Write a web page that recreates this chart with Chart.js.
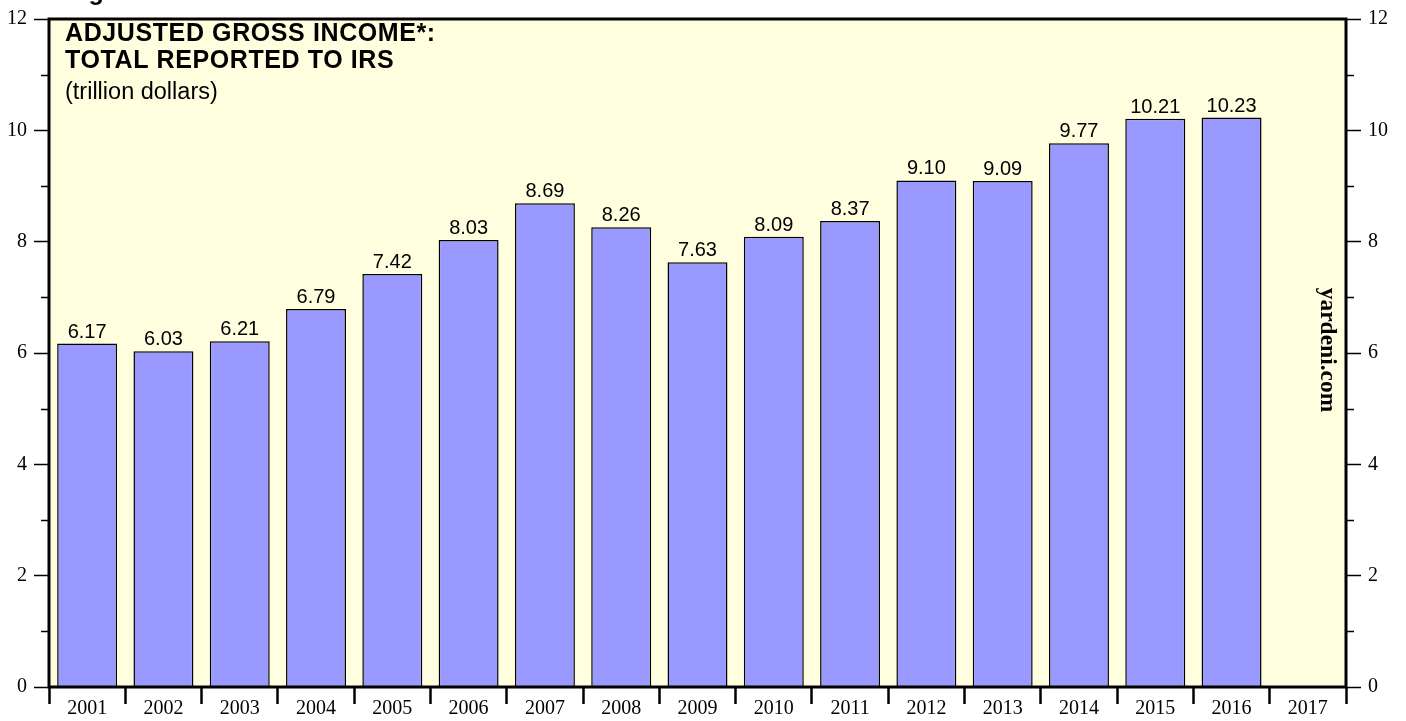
<!DOCTYPE html>
<html><head><meta charset="utf-8">
<script src="https://cdn.jsdelivr.net/npm/chart.js@4.4.1/dist/chart.umd.min.js"></script>
<style>html,body{margin:0;padding:0;background:#fff;overflow:hidden}#wrap{width:1406px;height:721px;position:relative}canvas{display:block}</style>
</head><body><div id="wrap"><canvas id="c" width="1406" height="721"></canvas></div>
<script>
const years = ['2001','2002','2003','2004','2005','2006','2007','2008','2009','2010','2011','2012','2013','2014','2015','2016','2017'];
const agiValues = [6.17,6.03,6.21,6.79,7.42,8.03,8.69,8.26,7.63,8.09,8.37,9.10,9.09,9.77,10.21,10.23,null];
const yMin = 0, yMax = 12, yMajorStep = 2, yMinorStep = 1;
const titleLines = ['ADJUSTED GROSS INCOME*:','TOTAL REPORTED TO IRS'];
const subtitle = '(trillion dollars)';
const figLabel = 'Figure 1.';
const sourceText = 'yardeni.com';

const SANS = '"Liberation Sans", Arial, sans-serif';
const SERIF = '"Liberation Serif", "Times New Roman", serif';

const decor = {
  id: 'decor',
  beforeDraw(chart) {
    const {ctx, chartArea: a} = chart;
    ctx.save();
    ctx.fillStyle = '#ffffff';
    ctx.fillRect(0, 0, chart.width, chart.height);
    ctx.fillStyle = '#ffffe0';
    ctx.fillRect(a.left, a.top, a.right - a.left, a.bottom - a.top);
    ctx.restore();
  },
  afterDatasetsDraw(chart) {
    const {ctx, chartArea: a} = chart;
    ctx.save();
    // value labels
    const meta = chart.getDatasetMeta(0);
    ctx.fillStyle = '#000';
    ctx.font = '20px ' + SANS;
    ctx.textAlign = 'center';
    ctx.textBaseline = 'alphabetic';
    meta.data.forEach((bar, i) => {
      const v = agiValues[i];
      if (v == null) return;
      ctx.fillText(v.toFixed(2), bar.x, bar.y - 6);
    });
    // minor ticks on both y axes
    const yl = chart.scales.y;
    ctx.strokeStyle = '#000';
    ctx.lineWidth = 1.5;
    for (let v = yMin; v <= yMax; v += yMinorStep) {
      if (v % yMajorStep === 0) continue;
      const py = Math.round(yl.getPixelForValue(v)) + 0.5;
      ctx.beginPath();
      ctx.moveTo(a.left - 8, py); ctx.lineTo(a.left, py);
      ctx.moveTo(a.right, py); ctx.lineTo(a.right + 8, py);
      ctx.stroke();
    }
    // plot frame
    ctx.lineWidth = 3;
    ctx.strokeRect(a.left, a.top, a.right - a.left, a.bottom - a.top);
    // titles
    ctx.textAlign = 'left';
    ctx.font = 'bold 25px ' + SANS;
    if ('letterSpacing' in ctx) ctx.letterSpacing = '0.6px';
    ctx.fillText(figLabel, 65, 0);
    ctx.fillText(titleLines[0], 65, 41);
    ctx.fillText(titleLines[1], 65, 68);
    if ('letterSpacing' in ctx) ctx.letterSpacing = '0px';
    ctx.font = '23.5px ' + SANS;
    ctx.fillText(subtitle, 65, 99);
    // source
    ctx.translate(1327, 350);
    ctx.rotate(Math.PI / 2);
    ctx.textAlign = 'center';
    ctx.textBaseline = 'middle';
    ctx.font = 'bold 23.5px ' + SERIF;
    ctx.fillText(sourceText, 0, 0);
    ctx.restore();
  }
};

const yAxisCommon = (pos, width) => ({
  type: 'linear',
  position: pos,
  min: yMin, max: yMax,
  border: {display: false},
  grid: {display: true, drawOnChartArea: false, drawTicks: true, tickLength: 15, tickWidth: 1.5, tickColor: '#000'},
  ticks: {stepSize: yMajorStep, padding: 7, color: '#000', font: {family: SERIF, size: 20}},
  afterFit(s) { s.width = width; }
});

new Chart(document.getElementById('c'), {
  type: 'bar',
  data: {
    labels: years,
    datasets: [{
      data: agiValues,
      backgroundColor: '#9999ff',
      borderColor: '#000000',
      borderWidth: 1.5,
      barPercentage: 0.786,
      categoryPercentage: 1.0,
      yAxisID: 'y'
    }]
  },
  options: {
    responsive: false,
    animation: false,
    devicePixelRatio: 1,
    layout: {padding: {top: 15, left: 0, right: 0, bottom: 0}},
    plugins: {legend: {display: false}, tooltip: {enabled: false}, title: {display: false}},
    scales: {
      x: {
        type: 'category',
        offset: true,
        border: {display: false},
        grid: {display: true, drawOnChartArea: false, offset: true, drawTicks: true, tickLength: 17, tickWidth: 2.5, tickColor: '#000'},
        ticks: {color: '#000', font: {family: SERIF, size: 20}, padding: -7, maxRotation: 0, autoSkip: false},
        afterFit(s) { s.height = 34; }
      },
      y: yAxisCommon('left', 49),
      y2: yAxisCommon('right', 60)
    }
  },
  plugins: [decor]
});
</script>
</body></html>
